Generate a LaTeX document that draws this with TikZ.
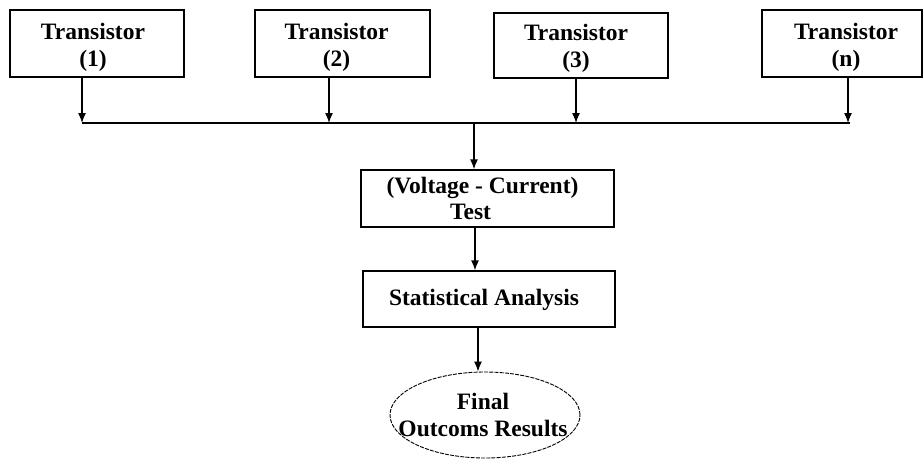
\documentclass[tikz,border=0pt]{standalone}
\usepackage{fontspec}
\setmainfont{Liberation Serif}
\usetikzlibrary{arrows.meta,shapes.geometric}

\tikzset{
  blk/.style={draw, line width=1.3pt, rectangle, inner sep=0pt},
  txt/.style={align=center, inner sep=0pt, font=\fontsize{23.5}{26.5}\selectfont\bfseries},
  oval/.style={draw, ellipse, line width=0.9pt, dash pattern=on 4pt off 1.2pt, inner sep=0pt},
  flow/.style={line width=1.3pt, -{Latex[length=10pt,width=8pt]}},
  bus/.style={line width=1.3pt}
}

\begin{document}
\begin{tikzpicture}[x=1pt,y=-1pt]
  \useasboundingbox (0,0) rectangle (924,460);

  % input transistor boxes
  \node[blk, minimum width=174, minimum height=67] (t1) at (97,43.5) {};
  \node[blk, minimum width=175, minimum height=67] (t2) at (342.5,43.5) {};
  \node[blk, minimum width=174, minimum height=65] (t3) at (581,45.5) {};
  \node[blk, minimum width=160, minimum height=67] (tn) at (842,43.5) {};
  \node[txt] (t1l) at ([xshift=-4pt,yshift=-4pt]t1.center) {Transistor\\(1)};
  \node[txt] (t2l) at ([xshift=-6pt,yshift=-4pt]t2.center) {Transistor\\(2)};
  \node[txt] (t3l) at ([xshift=-5pt,yshift=-3pt]t3.center) {Transistor\\(3)};
  \node[txt] (tnl) at ([xshift=4pt,yshift=-4pt]tn.center) {Transistor\\(n)};

  % common bus
  \coordinate (busL) at (82,123);
  \coordinate (busR) at (850,123);
  \draw[bus] (busL) -- (busR);

  \draw[flow] ([xshift=-15pt]t1.south) -- ([xshift=-15pt]t1.south |- busL);
  \draw[flow] ([xshift=-13.5pt]t2.south) -- ([xshift=-13.5pt]t2.south |- busL);
  \draw[flow] ([xshift=-5pt]t3.south) -- ([xshift=-5pt]t3.south |- busL);
  \draw[flow] ([xshift=6pt]tn.south) -- ([xshift=6pt]tn.south |- busL);

  % processing chain
  \node[blk, minimum width=253, minimum height=57] (vc) at (487.5,198.5) {};
  \node[txt] (vcl) at ([xshift=-5pt]vc.center) {(Voltage - Current)\\\hspace*{-24pt}Test};
  \node[blk, minimum width=252, minimum height=56] (sa) at (489,299) {};
  \node[txt] (sal) at ([xshift=-5pt,yshift=-1pt]sa.center) {Statistical Analysis};
  \node[oval, minimum width=190, minimum height=86] (fo) at (485,415) {};
  \node[txt] (fol) at ([xshift=-2pt]fo.center) {Final\\Outcoms Results};

  \coordinate (tap) at (474,123);
  \draw[flow] (tap) -- (tap |- vc.north);
  \draw[flow] ([xshift=-12.5pt]vc.south) -- ([xshift=-12.5pt]vc.south |- sa.north);
  \draw[flow] ([xshift=-11pt]sa.south) -- ([xshift=-11pt]sa.south |- fo.north);
\end{tikzpicture}
\end{document}
